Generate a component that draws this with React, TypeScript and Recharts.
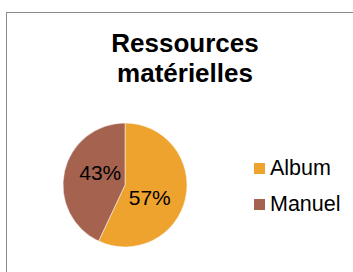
import { PieChart, Pie, Cell, Legend } from "recharts";

const categories = ["Album", "Manuel"];
const values = [57, 43];
const colors = ["#EFA32F", "#A4624F"];

const data = categories.map((name, i) => ({ name, value: values[i] }));

const RADIAN = Math.PI / 180;

const renderLabel = (props: any) => {
  const { cx, cy, midAngle, outerRadius, percent } = props;
  const r = outerRadius * 0.45;
  const a = (midAngle - 15) * RADIAN;
  const x = cx + r * Math.cos(a);
  const y = cy - r * Math.sin(a);
  return (
    <text
      x={x}
      y={y}
      textAnchor="middle"
      dominantBaseline="central"
      fill="#000"
      fontSize={21}
      fontFamily="Liberation Sans, Arial, sans-serif"
    >
      {Math.round(percent * 100) + "%"}
    </text>
  );
};

const CLegend = () => (
  <div style={{ fontFamily: "Liberation Sans, Arial, sans-serif" }}>
    {data.map((d, i) => (
      <div
        key={d.name}
        style={{ display: "flex", alignItems: "center", height: 36, fontSize: 21.5 }}
      >
        <span
          style={{
            width: 11,
            height: 11,
            background: colors[i],
            marginRight: 5,
            display: "inline-block",
          }}
        />
        <span>{d.name}</span>
      </div>
    ))}
  </div>
);

export default function App() {
  return (
    <div
      style={{
        position: "absolute",
        left: 0,
        top: 0,
        width: 353,
        height: 272,
        overflow: "hidden",
        background: "#fff",
      }}
    >
      <style>{`body{margin:0}`}</style>
      <div
        style={{
          position: "absolute",
          left: 6,
          top: 12,
          width: 400,
          height: 300,
          border: "1px solid #8a8a8a",
        }}
      />
      <div
        style={{
          position: "absolute",
          left: 6,
          top: 28,
          width: 358,
          textAlign: "center",
          fontFamily: "Liberation Sans, Arial, sans-serif",
          fontWeight: "bold",
          fontSize: 26,
          lineHeight: "30px",
          color: "#000",
        }}
      >
        Ressources
        <br />
        matérielles
      </div>
      <div style={{ position: "absolute", left: 0, top: 0 }}>
        <PieChart
          width={353}
          height={272}
          margin={{ top: 0, right: 0, bottom: 0, left: 0 }}
        >
          <Pie
            data={data}
            dataKey="value"
            nameKey="name"
            cx={125}
            cy={185}
            outerRadius={62}
            startAngle={90}
            endAngle={-270}
            stroke="#fff"
            strokeWidth={0.5}
            label={renderLabel}
            labelLine={false}
            isAnimationActive={false}
          >
            {data.map((d, i) => (
              <Cell key={d.name} fill={colors[i]} />
            ))}
          </Pie>
          <Legend
            content={<CLegend />}
            wrapperStyle={{ position: "absolute", left: 254, top: 150, width: 100 }}
          />
        </PieChart>
      </div>
    </div>
  );
}
